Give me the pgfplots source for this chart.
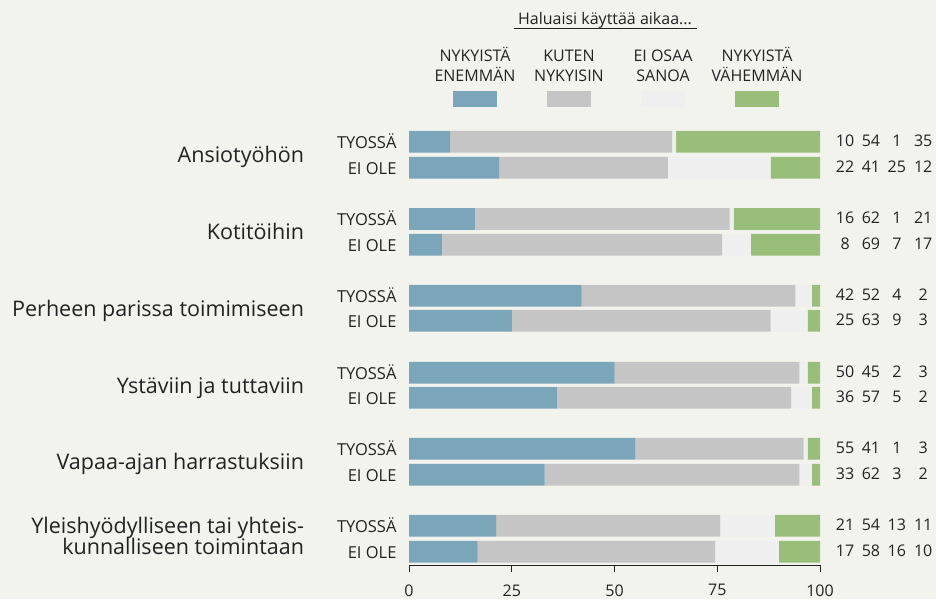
\documentclass[border=0pt]{standalone}
\usepackage{fontspec}
\setmainfont{Open Sans}
\usepackage{pgfplots}
\usepackage{pgfplotstable}
\pgfplotsset{compat=1.18}
\definecolor{bg}{HTML}{F3F3EE}
\definecolor{cA}{HTML}{7BA5B9}
\definecolor{cB}{HTML}{C5C5C5}
\definecolor{cC}{HTML}{EFEFEF}
\definecolor{cD}{HTML}{98BE7A}
\definecolor{txt}{HTML}{222222}

\pgfplotstableread{
y a b c d
-141.8 10 54 1 35
-167.8 22 41 25 12
-219.0 16 62 1 21
-244.8 8 68.2 7 16.8
-295.8 42 52 4 2
-320.8 25 63 9 3
-372.8 50 45 2 3
-397.8 36 57 5 2
-448.8 55 41 1 3
-474.8 33 62 3 2
-525.8 21.2 54.5 13.3 11
-551.8 16.7 57.8 15.5 10
}\data

\newcommand\catfont{\fontsize{21.5}{23}\selectfont}
\newcommand\grpfont{\fontsize{16.5}{19}\selectfont}
\newcommand\numfont{\fontsize{16}{19}\selectfont}
\newcommand\legfont{\fontsize{16}{20}\selectfont}

\begin{document}
\begin{tikzpicture}[x=1pt,y=1pt]
\fill[bg] (0,0) rectangle (936,599);
\begin{axis}[
  at={(409pt,33.5pt)}, anchor=south west,
  scale only axis, width=411pt, height=440pt,
  xmin=0, xmax=100, ymin=-565.5, ymax=-125.5,
  xbar stacked, bar width=21.7,
  axis x line=bottom, axis y line=none,
  x axis line style={-, draw=txt, line width=1.1pt},
  xtick={0,25,50,75,100}, tick align=outside, major tick length=6.5pt,
  xtick style={draw=txt, line width=0.9pt},
  xticklabel style={font=\numfont, text=txt, yshift=-9pt},
  /pgf/number format/assume math mode=true,
  clip=false,
  every axis plot/.append style={draw=none},
]
\addplot[fill=cA] table[x=a,y=y] {\data};
\addplot[fill=cB] table[x=b,y=y] {\data};
\addplot[fill=cC] table[x=c,y=y] {\data};
\addplot[fill=cD] table[x=d,y=y] {\data};

% group labels
\foreach \yy/\lab in {-148.3/TYOSSÄ,-174.3/EI OLE,-225.5/TYOSSÄ,-251.3/EI OLE,-302.3/TYOSSÄ,-327.3/EI OLE,-379.3/TYOSSÄ,-404.3/EI OLE,-455.3/TYOSSÄ,-481.3/EI OLE,-532.3/TYOSSÄ,-558.3/EI OLE}{
  \edef\tmp{\noexpand\node[anchor=base east, inner sep=0pt, font=\noexpand\grpfont, text=txt] at (axis cs:-3.0,\yy) {\lab};}\tmp
}
% category labels
\foreach \yy/\lab in {-162.8/Ansiotyöhön,-239.9/Kotitöihin,-316.3/Perheen parissa toimimiseen,-393.3/Ystäviin ja tuttaviin,-469.8/Vapaa-ajan harrastuksiin,-533.3/Yleishyödylliseen tai yhteis-,-554.3/kunnalliseen toimintaan}{
  \edef\tmp{\noexpand\node[anchor=base east, inner sep=0pt, font=\noexpand\catfont, text=txt] at (axis cs:-25.5,\yy) {\lab};}\tmp
}
% value numbers
\foreach \yy/\va/\vb/\vc/\vd in {-146.3/10/54/1/35,-172.3/22/41/25/12,-223.5/16/62/1/21,-249.3/8/69/7/17,-300.3/42/52/4/2,-325.3/25/63/9/3,-377.3/50/45/2/3,-402.3/36/57/5/2,-453.3/55/41/1/3,-479.3/33/62/3/2,-530.3/21/54/13/11,-556.3/17/58/16/10}{
  \edef\tmp{%
  \noexpand\node[anchor=base, inner sep=0pt, font=\noexpand\numfont, text=txt] at (axis cs:106.1,\yy) {\va};
  \noexpand\node[anchor=base, inner sep=0pt, font=\noexpand\numfont, text=txt] at (axis cs:112.4,\yy) {\vb};
  \noexpand\node[anchor=base, inner sep=0pt, font=\noexpand\numfont, text=txt] at (axis cs:118.7,\yy) {\vc};
  \noexpand\node[anchor=base, inner sep=0pt, font=\noexpand\numfont, text=txt] at (axis cs:125.1,\yy) {\vd};}\tmp
}
\end{axis}
% legend header
\node[anchor=base, inner sep=0pt, font=\legfont, text=txt] at (605,574) {Haluaisi käyttää aikaa...};
\draw[txt, line width=1.3pt] (514,570.5) -- (697,570.5);
% legend entries
\foreach \xx/\la/\lb/\col in {475/NYKYISTÄ/ENEMMÄN/cA,569/KUTEN/NYKYISIN/cB,663/EI OSAA/SANOA/cC,757/NYKYISTÄ/VÄHEMMÄN/cD}{
  \node[anchor=base, inner sep=0pt, font=\legfont, text=txt] at (\xx,537.3) {\la};
  \node[anchor=base, inner sep=0pt, font=\legfont, text=txt] at (\xx,517.3) {\lb};
  \fill[\col] (\xx-22,492) rectangle (\xx+22,508);
}
\end{tikzpicture}
\end{document}
